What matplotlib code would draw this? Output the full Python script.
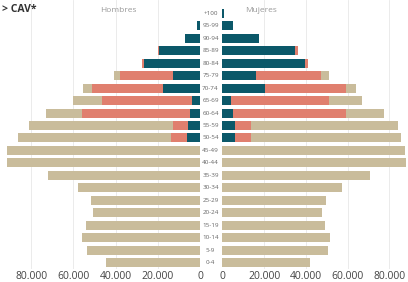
import matplotlib
matplotlib.use("Agg")
import matplotlib.pyplot as plt
from matplotlib.transforms import blended_transform_factory

edades = ["0-4", "5-9", "10-14", "15-19", "20-24", "25-29", "30-34", "35-39",
          "40-44", "45-49", "50-54", "55-59", "60-64", "65-69", "70-74",
          "75-79", "80-84", "85-89", "90-94", "95-99", "+100"]

# hombres (segmentos desde el centro hacia fuera)
h_azul = [0, 0, 0, 0, 0, 0, 0, 0, 0, 0, 6300, 5800, 4700, 3800, 17500,
          12900, 26700, 19300, 7000, 1300, 200]
h_rojo = [0, 0, 0, 0, 0, 0, 0, 0, 0, 0, 7400, 7100, 51000, 42700, 33700,
          24800, 800, 800, 0, 0, 0]
h_beis = [44600, 53700, 55800, 53900, 50600, 51500, 57800, 72200, 91300,
          91600, 72400, 68000, 17200, 13900, 4100, 3000, 0, 0, 0, 0, 0]

# mujeres
m_azul = [0, 0, 0, 0, 0, 0, 0, 0, 0, 0, 6100, 6100, 4900, 4300, 20300,
          16200, 39500, 35000, 17400, 4800, 800]
m_rojo = [0, 0, 0, 0, 0, 0, 0, 0, 0, 0, 7700, 7500, 54400, 46600, 39100,
          31000, 1600, 1100, 0, 0, 0]
m_beis = [41800, 50500, 51500, 49300, 47900, 49800, 57300, 70700, 88000,
          87800, 71700, 70800, 18000, 15800, 4600, 3800, 0, 0, 0, 0, 0]

ticks = [0, 20000, 40000, 60000, 80000]

c_azul = "#0b5869"
c_rojo = "#e07f6e"
c_beis = "#c9bc9b"

plt.rcParams["font.family"] = ["Open Sans", "DejaVu Sans"]

W, H = 408, 282
fig = plt.figure(figsize=(W / 100, H / 100), dpi=100)
bottom = 1 - 268.9 / H
ax_h = fig.add_axes([0, bottom, 200 / W, 1 - bottom])
ax_m = fig.add_axes([222.5 / W, bottom, (W - 222.5) / W, 1 - bottom])

y = list(range(len(edades)))
for ax, azul, rojo, beis, xmax in [(ax_h, h_azul, h_rojo, h_beis, 94800),
                                   (ax_m, m_azul, m_rojo, m_beis, 89000)]:
    left2 = [a + r for a, r in zip(azul, rojo)]
    ax.barh(y, azul, height=0.72, color=c_azul, zorder=2)
    ax.barh(y, rojo, left=azul, height=0.72, color=c_rojo, zorder=2)
    ax.barh(y, beis, left=left2, height=0.72, color=c_beis, zorder=2)
    for t in ticks[1:]:
        ax.axvline(t, color="#e8e8e8", lw=0.6, zorder=0)
    ax.set_ylim(-0.5, 21.064)
    ax.set_xlim(0, xmax)
    ax.set_yticks([])
    ax.set_xticks(ticks)
    ax.set_xticklabels([f"{t:,}".replace(",", ".") for t in ticks])
    ax.tick_params(axis="x", length=0, pad=1.5, labelsize=7.5, labelcolor="#444444")
    for s in ax.spines.values():
        s.set_visible(False)
    ax.patch.set_alpha(0)

ax_h.invert_xaxis()

tr = blended_transform_factory(fig.transFigure, ax_m.transData)
for i, lab in enumerate(edades):
    fig.text(210.5 / W, i, lab, transform=tr, ha="center", va="center",
             fontsize=4.5, color="#666666")

fig.text(2 / W, 1 - 10 / H, "> CAV*", ha="left", va="center",
         fontsize=7.5, fontweight="bold", color="#333333")
fig.text(118 / W, 1 - 11 / H, "Hombres", ha="center", va="center",
         fontsize=6, color="#999999")
fig.text(261.5 / W, 1 - 11 / H, "Mujeres", ha="center", va="center",
         fontsize=6, color="#999999")

fig.savefig("out.png", dpi=100)
